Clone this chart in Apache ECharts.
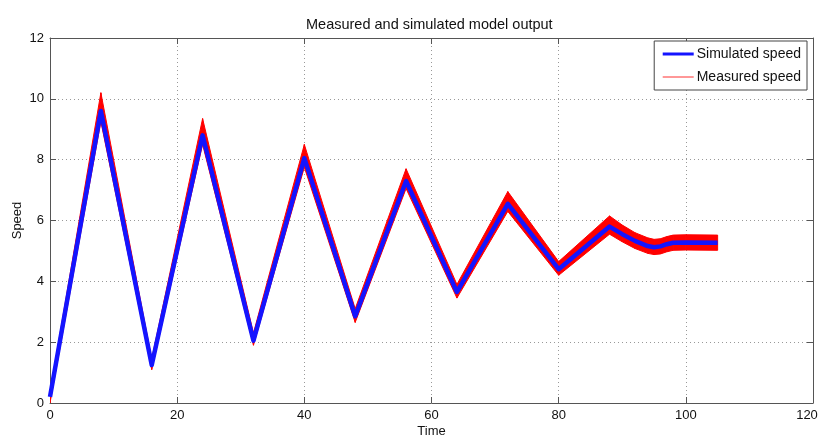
<!DOCTYPE html>
<html>
<head>
<meta charset="utf-8">
<script src="https://cdn.jsdelivr.net/npm/echarts@6/dist/echarts.min.js"></script>
<style>
  html, body { margin: 0; padding: 0; background: #fff; }
  #chart { width: 820px; height: 440px; }
</style>
</head>
<body>
<div id="chart"></div>
<script>
// Simulated model output: vertices of the speed trace over time
const simTime  = [0, 8, 16, 24, 32, 40, 48, 56, 64, 72, 80, 88, 90, 92, 94, 95, 96, 97, 98, 100, 105];
const simSpeed = [0.2, 9.6, 1.25, 8.8, 2.05, 8.05, 2.85, 7.3, 3.65, 6.55, 4.4, 5.8, 5.55, 5.33, 5.16, 5.12, 5.15, 5.22, 5.27, 5.28, 5.27];

// Measured speed: noisy band, lower and upper envelope at the same times
const measTime = [0, 8, 16, 24, 32, 40, 48, 56, 64, 72, 80, 88, 90, 92, 94, 95, 96, 97, 98, 100, 105];
const measLow  = [0.0, 9.25, 1.1, 8.5, 1.9, 7.75, 2.65, 7.05, 3.45, 6.3, 4.2, 5.55, 5.3, 5.08, 4.92, 4.88, 4.9, 4.97, 5.02, 5.03, 5.02];
const measHigh = [0.35, 10.2, 1.45, 9.35, 2.3, 8.5, 3.1, 7.7, 3.9, 6.95, 4.65, 6.15, 5.85, 5.6, 5.43, 5.38, 5.4, 5.47, 5.52, 5.53, 5.52];

// Axis ticks
const xTicks = [0, 20, 40, 60, 80, 100, 120];
const yTicks = [0, 2, 4, 6, 8, 10, 12];

const FONT = "'Liberation Sans', Arial, sans-serif";
const TEXT = '#111';

const simData = simTime.map((t, i) => [t, simSpeed[i]]);
// one row per band segment: [t0, low0, high0, t1, low1, high1]
const bandData = measTime.slice(0, -1).map((t, i) => [
  t, measLow[i], measHigh[i], measTime[i + 1], measLow[i + 1], measHigh[i + 1]
]);

const gridLine = { show: true, lineStyle: { color: '#999', type: [1, 3], width: 1 } };
const frameLine = { show: true, onZero: false, lineStyle: { color: '#555', width: 1 } };
const innerTick = { show: true, inside: true, length: 6, lineStyle: { color: '#555' } };

const xBase = {
  type: 'value',
  min: xTicks[0],
  max: xTicks[xTicks.length - 1],
  interval: xTicks[1] - xTicks[0]
};
const yBase = {
  type: 'value',
  min: yTicks[0],
  max: yTicks[yTicks.length - 1],
  interval: yTicks[1] - yTicks[0]
};

function renderBand(params, api) {
  const a = api.coord([api.value(0), api.value(2)]);
  const b = api.coord([api.value(3), api.value(5)]);
  const c = api.coord([api.value(3), api.value(4)]);
  const d = api.coord([api.value(0), api.value(1)]);
  return {
    type: 'polygon',
    shape: { points: [a, b, c, d] },
    style: { fill: '#ff0000', stroke: '#ff0000', lineWidth: 1 }
  };
}

const chart = echarts.init(document.getElementById('chart'), null, { renderer: 'canvas' });

chart.setOption({
  animation: false,
  backgroundColor: '#fff',
  textStyle: { fontFamily: FONT },
  title: {
    text: 'Measured and simulated model output',
    left: 301,
    top: 12,
    textStyle: { fontFamily: FONT, fontSize: 14.5, fontWeight: 'normal', color: TEXT }
  },
  legend: {
    orient: 'vertical',
    right: 13,
    top: 41,
    backgroundColor: '#fff',
    borderColor: '#444',
    borderWidth: 1,
    borderRadius: 0,
    padding: [6, 6, 6, 7],
    itemWidth: 31,
    itemHeight: 14,
    itemGap: 9,
    textStyle: { fontFamily: FONT, fontSize: 14, color: TEXT, padding: [0, 0, 0, -2] },
    data: [
      { name: 'Simulated speed', lineStyle: { width: 3 }, itemStyle: { opacity: 0 } },
      { name: 'Measured speed', lineStyle: { width: 1 }, itemStyle: { opacity: 0 } }
    ]
  },
  grid: { left: 50, right: 7, top: 38, bottom: 37, show: false, outerBoundsMode: 'none' },
  xAxis: [
    Object.assign({}, xBase, {
      position: 'bottom',
      name: 'Time',
      nameLocation: 'middle',
      nameGap: 22,
      nameMoveOverlap: false,
      nameTextStyle: { fontFamily: FONT, fontSize: 13, color: TEXT },
      axisLine: frameLine,
      axisTick: innerTick,
      axisLabel: {
        fontFamily: FONT, fontSize: 13, color: TEXT, margin: 6,
        // keep the last label inside the canvas edge
        formatter: v => (v === xBase.max ? '{edge|' + v + '}' : String(v)),
        rich: { edge: { fontFamily: FONT, fontSize: 13, color: TEXT, padding: [0, 12, 0, 0] } }
      },
      splitLine: gridLine
    }),
    Object.assign({}, xBase, {
      position: 'top',
      axisLine: frameLine,
      axisTick: innerTick,
      axisLabel: { show: false },
      splitLine: { show: false }
    })
  ],
  yAxis: [
    Object.assign({}, yBase, {
      position: 'left',
      name: 'Speed',
      nameLocation: 'middle',
      nameGap: 26,
      nameMoveOverlap: false,
      nameTextStyle: { fontFamily: FONT, fontSize: 13, color: TEXT },
      axisLine: frameLine,
      axisTick: innerTick,
      axisLabel: { fontFamily: FONT, fontSize: 13, color: TEXT, margin: 6 },
      splitLine: gridLine
    }),
    Object.assign({}, yBase, {
      position: 'right',
      axisLine: frameLine,
      axisTick: innerTick,
      axisLabel: { show: false },
      splitLine: { show: false }
    })
  ],
  series: [
    {
      name: 'measBand',
      type: 'custom',
      renderItem: renderBand,
      data: bandData,
      encode: { x: [0, 3], y: [1, 2, 4, 5] },
      clip: true,
      silent: true,
      z: 2
    },
    {
      name: 'Measured speed',
      type: 'line',
      data: [],
      symbol: 'none',
      color: '#ff3030',
      lineStyle: { color: '#ff3030', width: 1 }
    },
    {
      name: 'Simulated speed',
      type: 'line',
      data: simData,
      symbol: 'none',
      color: '#1414ff',
      lineStyle: { color: '#1414ff', width: 4.5, join: 'round' },
      z: 3
    }
  ]
});
</script>
</body>
</html>
